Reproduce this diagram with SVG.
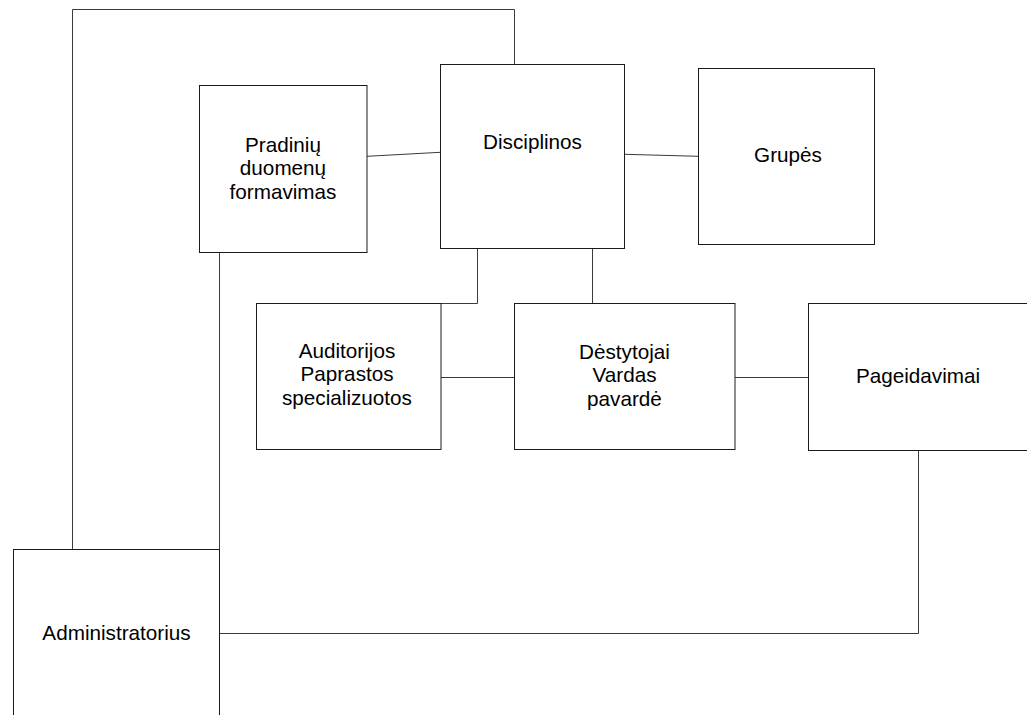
<svg xmlns="http://www.w3.org/2000/svg" width="1027" height="715" viewBox="0 0 1027 715">
<style>
.box{fill:#fff;stroke:#1a1a1a;stroke-width:1}
.lbl{font-family:"Liberation Sans",Arial,sans-serif;font-size:20.7px;fill:#000;text-anchor:middle}
.con{fill:none;stroke:#3a3a3a;stroke-width:1}
</style>
<rect x="0" y="0" width="1027" height="715" fill="#fff"/>
<g id="connectors">
<path class="con" d="M72.5 549.5 V9.5 H514.5 V64.5"/>
<path class="con" d="M367 156.3 L440.5 152.3"/>
<path class="con" d="M624.5 154.3 L698.5 156.3"/>
<path class="con" d="M477.5 248.5 V303.5 H441"/>
<path class="con" d="M592.5 248.5 V303.5"/>
<path class="con" d="M441 377.5 H514.5"/>
<path class="con" d="M735 377.5 H808.5"/>
<path class="con" d="M219.5 252.5 V549.5"/>
<path class="con" d="M918.5 450.5 V633.5 H219.5"/>
</g>
<g id="pradiniu">
<rect class="box" x="199.5" y="85.5" width="167.5" height="167"/>
<text class="lbl" x="283" y="151.7">Pradinių</text>
<text class="lbl" x="283" y="175.3">duomenų</text>
<text class="lbl" x="283" y="199.3">formavimas</text>
</g>
<g id="disciplinos">
<rect class="box" x="440.5" y="64.5" width="184" height="184"/>
<text class="lbl" x="532.5" y="149.3">Disciplinos</text>
</g>
<g id="grupes">
<rect class="box" x="698.5" y="68.5" width="176" height="176"/>
<text class="lbl" x="788" y="162.3">Grupės</text>
</g>
<g id="auditorijos">
<rect class="box" x="256.5" y="303.5" width="184.5" height="146"/>
<text class="lbl" x="347" y="357.5">Auditorijos</text>
<text class="lbl" x="347" y="381">Paprastos</text>
<text class="lbl" x="347" y="405">specializuotos</text>
</g>
<g id="destytojai">
<rect class="box" x="514.5" y="303.5" width="220.5" height="146"/>
<text class="lbl" x="624.5" y="358.5">Dėstytojai</text>
<text class="lbl" x="624.5" y="382">Vardas</text>
<text class="lbl" x="624.5" y="405.5">pavardė</text>
</g>
<g id="pageidavimai">
<rect class="box" x="808.5" y="303.5" width="222" height="147"/>
<text class="lbl" x="918" y="382.5">Pageidavimai</text>
</g>
<g id="administratorius">
<rect class="box" x="13.5" y="549.5" width="206" height="175"/>
<text class="lbl" x="116.5" y="640">Administratorius</text>
</g>
</svg>
